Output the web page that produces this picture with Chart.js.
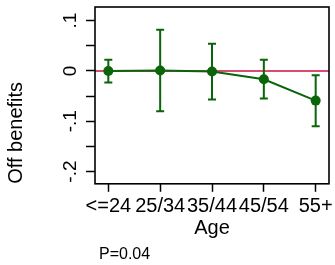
<!DOCTYPE html>
<html>
<head>
<meta charset="utf-8">
<script src="https://cdn.jsdelivr.net/npm/chart.js@4"></script>
<style>
  html, body { margin: 0; padding: 0; background: #fff; }
  #c { display: block; }
</style>
</head>
<body>
<canvas id="c" width="335" height="265"></canvas>
<script>
// ---- data ----
const categories = ['<=24', '25/34', '35/44', '45/54', '55+'];
const estimates  = [0.000, 0.001, -0.001, -0.0165, -0.059];
const upperCI    = [0.022, 0.082, 0.054, 0.022, -0.0086];
const lowerCI    = [-0.023, -0.080, -0.057, -0.055, -0.110];
const yTickValues = [0.1, 0.05, 0, -0.05, -0.1, -0.15, -0.2];
const yTickLabels = ['.1', '', '0', '', '-.1', '', '-.2'];
const refValue = 0;
const pValueText = 'P=0.04';

const GREEN = '#0a640a';
const RED = '#cc1040';
const FONT = "'Liberation Sans', Arial, Helvetica, sans-serif";

const refLinePlugin = {
  id: 'refLine',
  beforeDatasetsDraw(chart) {
    const {ctx, chartArea, scales} = chart;
    const y = scales.y.getPixelForValue(refValue);
    ctx.save();
    ctx.strokeStyle = RED;
    ctx.lineWidth = 1.5;
    ctx.beginPath();
    ctx.moveTo(chartArea.left, y);
    ctx.lineTo(chartArea.right, y);
    ctx.stroke();
    // error bars
    ctx.strokeStyle = GREEN;
    ctx.lineWidth = 2;
    const cap = 4;
    categories.forEach((c, i) => {
      const x = scales.x.getPixelForValue(i);
      const yh = scales.y.getPixelForValue(upperCI[i]);
      const yl = scales.y.getPixelForValue(lowerCI[i]);
      ctx.beginPath();
      ctx.moveTo(x, yh); ctx.lineTo(x, yl);
      ctx.moveTo(x - cap, yh); ctx.lineTo(x + cap, yh);
      ctx.moveTo(x - cap, yl); ctx.lineTo(x + cap, yl);
      ctx.stroke();
    });
    ctx.restore();
  },
  afterDraw(chart) {
    const {ctx, chartArea} = chart;
    ctx.save();
    ctx.strokeStyle = '#000';
    ctx.lineWidth = 1.6;
    ctx.strokeRect(chartArea.left, chartArea.top, chartArea.right - chartArea.left, chartArea.bottom - chartArea.top);
    ctx.restore();
  },
  afterLayout(chart) {
    if (chart.titleBlock) chart.titleBlock.left += 4;
  }
};

new Chart(document.getElementById('c'), {
  type: 'line',
  data: {
    datasets: [{
      data: categories.map((c, i) => ({x: i, y: estimates[i]})),
      borderColor: GREEN,
      backgroundColor: GREEN,
      borderWidth: 2,
      pointRadius: 5,
      pointBorderWidth: 0,
      pointBackgroundColor: GREEN,
      tension: 0
    }]
  },
  options: {
    responsive: false,
    animation: false,
    layout: { padding: { left: 0, right: 6, top: 7, bottom: 0 } },
    plugins: {
      legend: { display: false },
      tooltip: { enabled: false },
      title: {
        display: true,
        text: pValueText,
        position: 'bottom',
        align: 'start',
        fullSize: false,
        color: '#000',
        font: { family: FONT, size: 16, weight: 'normal' },
        padding: { top: 0, bottom: 1 }
      }
    },
    scales: {
      x: {
        type: 'linear',
        min: -0.257,
        max: 4.257,
        afterBuildTicks: s => { s.ticks = categories.map((c, i) => ({value: i})); },
        afterFit: s => { s.height = 61; s.paddingLeft = 0; s.paddingRight = 0; },
        ticks: {
          autoSkip: false,
          maxRotation: 0,
          minRotation: 0,
          padding: 3,
          color: '#000',
          font: { family: FONT, size: 20 },
          callback: (v) => categories[v] ?? ''
        },
        grid: { display: true, drawOnChartArea: false, drawTicks: true, tickLength: 8, tickWidth: 1.5, tickColor: '#000' },
        border: { display: false },
        title: {
          display: true, text: 'Age', color: '#000',
          font: { family: FONT, size: 20 },
          padding: { top: 0, bottom: 4 }
        }
      },
      y: {
        type: 'linear',
        min: -0.2243,
        max: 0.127,
        afterBuildTicks: s => { s.ticks = yTickValues.map(v => ({value: v})); },
        afterFit: s => { s.width = 95; s.paddingTop = 0; s.paddingBottom = 0; },
        ticks: {
          minRotation: 90,
          maxRotation: 90,
          crossAlign: 'center',
          padding: 4,
          color: '#000',
          font: { family: FONT, size: 19 },
          callback: (v) => { const k = yTickValues.findIndex(t => Math.abs(t - v) < 1e-9); return k >= 0 ? yTickLabels[k] : ''; }
        },
        grid: { display: true, drawOnChartArea: false, drawTicks: true, tickLength: 9, tickWidth: 1.5, tickColor: '#000' },
        border: { display: false },
        title: {
          display: true, text: 'Off benefits', color: '#000', align: 'start',
          font: { family: FONT, size: 20 },
          padding: { top: 4, bottom: 0 }
        }
      }
    }
  },
  plugins: [refLinePlugin]
});
</script>
</body>
</html>
